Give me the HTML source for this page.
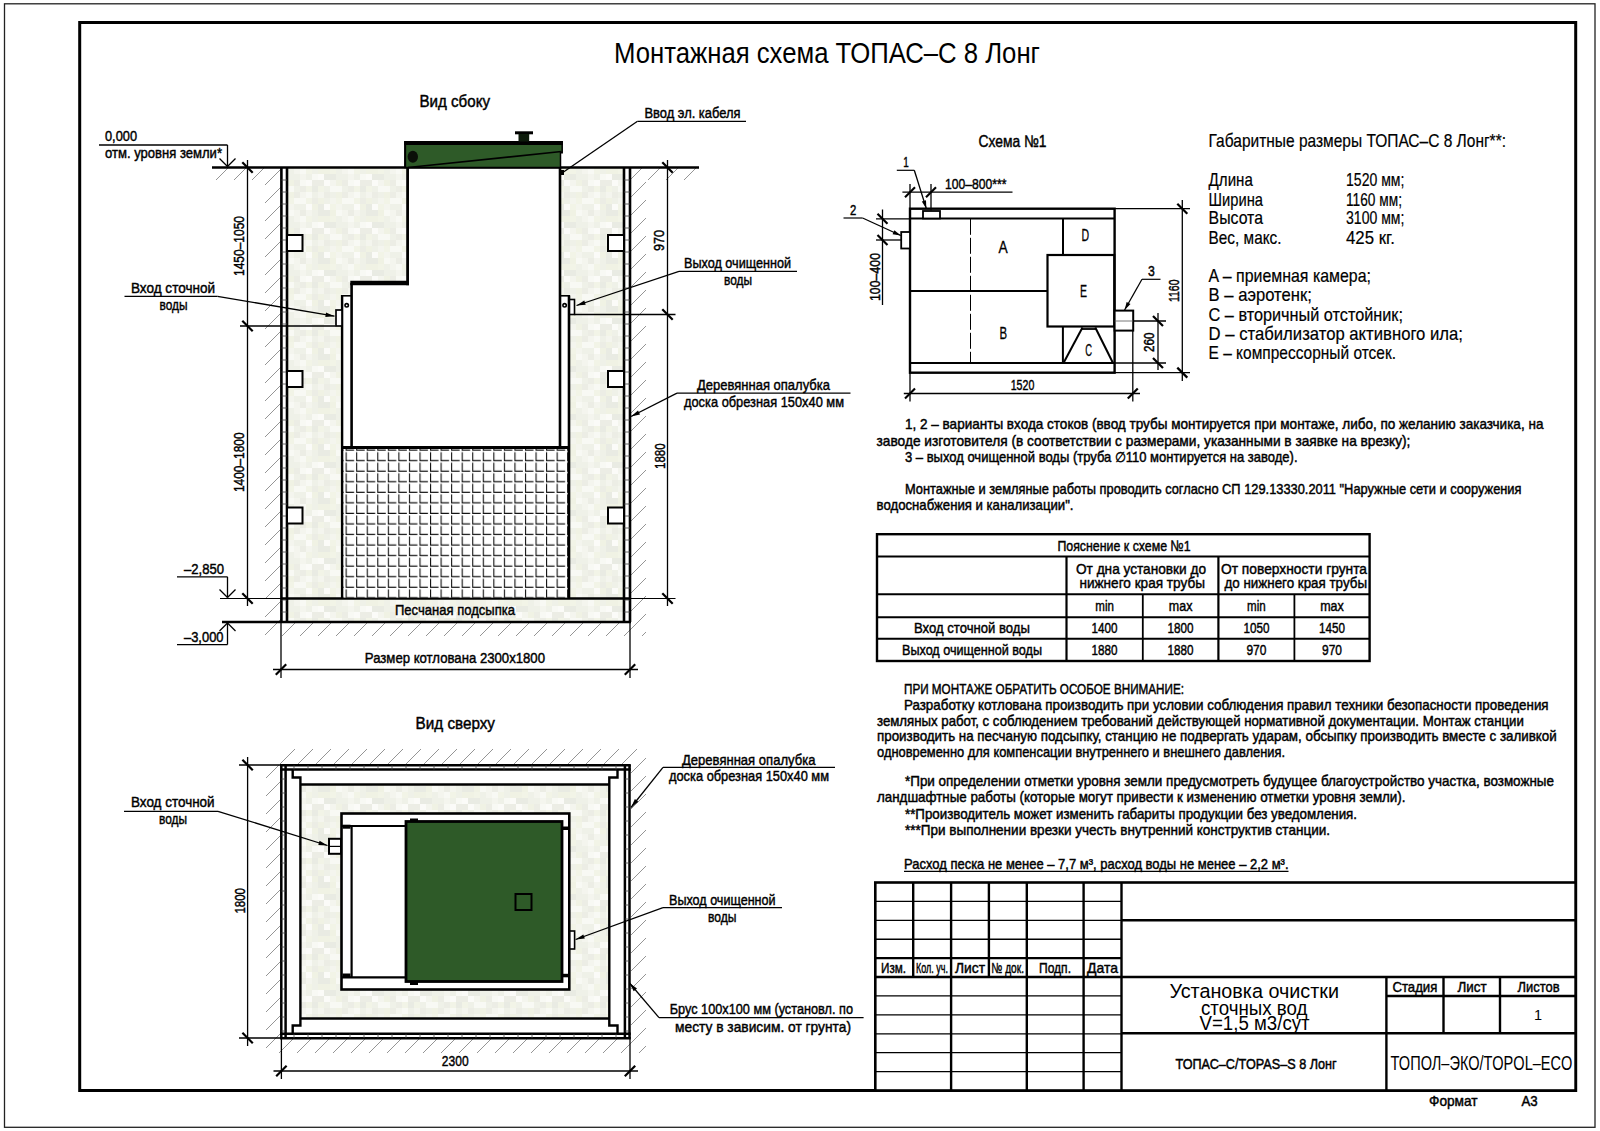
<!DOCTYPE html>
<html lang="ru"><head><meta charset="utf-8"><title>Монтажная схема ТОПАС–С 8 Лонг</title>
<style>
html,body{margin:0;padding:0;background:#fff;}
body{width:1600px;height:1131px;overflow:hidden;}
svg{display:block;font-family:'Liberation Sans', sans-serif;}
svg text{font-family:"Liberation Sans",sans-serif;}
</style></head><body>
<svg width="1600" height="1131" viewBox="0 0 1600 1131">
<rect width="1600" height="1131" fill="#fff"/>
<defs>
<pattern id="hatch" patternUnits="userSpaceOnUse" width="18" height="18">
<path d="M-1,19 L19,-1 M-1,1 L1,-1 M17,19 L19,17" stroke="#959595" stroke-width="1" fill="none"/>
</pattern>
<pattern id="sand" patternUnits="userSpaceOnUse" width="48" height="48">
<rect width="48" height="48" fill="#f3f4ed"/>
<rect x="0" y="0" width="6" height="6" fill="#f0f2e4"/><rect x="0" y="6" width="6" height="6" fill="#f2f4e7"/><rect x="0" y="12" width="6" height="6" fill="#f4f5ee"/><rect x="0" y="18" width="6" height="6" fill="#f8f9f4"/><rect x="0" y="24" width="6" height="6" fill="#eff1e8"/><rect x="0" y="30" width="6" height="6" fill="#eff1e8"/><rect x="0" y="36" width="6" height="6" fill="#f0f2e4"/><rect x="0" y="42" width="6" height="6" fill="#f8f9f4"/><rect x="6" y="0" width="6" height="6" fill="#ecede5"/><rect x="6" y="6" width="6" height="6" fill="#f8f9f4"/><rect x="6" y="12" width="6" height="6" fill="#eff1e8"/><rect x="6" y="18" width="6" height="6" fill="#f4f5ee"/><rect x="6" y="24" width="6" height="6" fill="#f4f5ee"/><rect x="6" y="30" width="6" height="6" fill="#eff1e8"/><rect x="6" y="36" width="6" height="6" fill="#ecede5"/><rect x="6" y="42" width="6" height="6" fill="#eff1e8"/><rect x="12" y="0" width="6" height="6" fill="#f4f5ee"/><rect x="12" y="6" width="6" height="6" fill="#f8f9f4"/><rect x="12" y="12" width="6" height="6" fill="#eff1e8"/><rect x="12" y="18" width="6" height="6" fill="#ecede5"/><rect x="12" y="24" width="6" height="6" fill="#f8f9f4"/><rect x="12" y="30" width="6" height="6" fill="#f4f5ee"/><rect x="12" y="36" width="6" height="6" fill="#f8f9f4"/><rect x="12" y="42" width="6" height="6" fill="#ecede5"/><rect x="18" y="0" width="6" height="6" fill="#f8f9f4"/><rect x="18" y="6" width="6" height="6" fill="#f2f4e7"/><rect x="18" y="12" width="6" height="6" fill="#fbfbf8"/><rect x="18" y="18" width="6" height="6" fill="#f4f5ee"/><rect x="18" y="24" width="6" height="6" fill="#f2f4e7"/><rect x="18" y="30" width="6" height="6" fill="#eff1e8"/><rect x="18" y="36" width="6" height="6" fill="#fbfbf8"/><rect x="18" y="42" width="6" height="6" fill="#f2f4e7"/><rect x="24" y="0" width="6" height="6" fill="#eff1e8"/><rect x="24" y="6" width="6" height="6" fill="#ecede5"/><rect x="24" y="12" width="6" height="6" fill="#f0f2e4"/><rect x="24" y="18" width="6" height="6" fill="#eff1e8"/><rect x="24" y="24" width="6" height="6" fill="#eff1e8"/><rect x="24" y="30" width="6" height="6" fill="#f8f9f4"/><rect x="24" y="36" width="6" height="6" fill="#ecede5"/><rect x="24" y="42" width="6" height="6" fill="#e9ebe3"/><rect x="30" y="0" width="6" height="6" fill="#f4f5ee"/><rect x="30" y="6" width="6" height="6" fill="#f0f2e4"/><rect x="30" y="12" width="6" height="6" fill="#e9ebe3"/><rect x="30" y="18" width="6" height="6" fill="#e9ebe3"/><rect x="30" y="24" width="6" height="6" fill="#f0f2e4"/><rect x="30" y="30" width="6" height="6" fill="#fbfbf8"/><rect x="30" y="36" width="6" height="6" fill="#ecede5"/><rect x="30" y="42" width="6" height="6" fill="#f2f4e7"/><rect x="36" y="0" width="6" height="6" fill="#ecede5"/><rect x="36" y="6" width="6" height="6" fill="#eff1e8"/><rect x="36" y="12" width="6" height="6" fill="#fbfbf8"/><rect x="36" y="18" width="6" height="6" fill="#e9ebe3"/><rect x="36" y="24" width="6" height="6" fill="#f0f2e4"/><rect x="36" y="30" width="6" height="6" fill="#e9ebe3"/><rect x="36" y="36" width="6" height="6" fill="#fbfbf8"/><rect x="36" y="42" width="6" height="6" fill="#eff1e8"/><rect x="42" y="0" width="6" height="6" fill="#eff1e8"/><rect x="42" y="6" width="6" height="6" fill="#f4f5ee"/><rect x="42" y="12" width="6" height="6" fill="#f2f4e7"/><rect x="42" y="18" width="6" height="6" fill="#f0f2e4"/><rect x="42" y="24" width="6" height="6" fill="#f2f4e7"/><rect x="42" y="30" width="6" height="6" fill="#e9ebe3"/><rect x="42" y="36" width="6" height="6" fill="#f4f5ee"/><rect x="42" y="42" width="6" height="6" fill="#f8f9f4"/>
</pattern>
<pattern id="grid" patternUnits="userSpaceOnUse" x="345.6" y="450.7" width="10.55" height="10.55">
<rect width="10.55" height="10.55" fill="#fff"/>
<path d="M0.5,1.5 V10.55 M0,10 H8.5" stroke="#111" stroke-width="1.2" fill="none"/>
</pattern>
</defs>
<rect x="4.5" y="3.8" width="1590.5" height="1123.5" fill="none" stroke="#222" stroke-width="1.3" />
<rect x="79.7" y="22.5" width="1496" height="1068" fill="none" stroke="#000" stroke-width="3" />
<text x="614" y="63.4" font-size="29" textLength="426.0" lengthAdjust="spacingAndGlyphs" fill="#000">Монтажная схема ТОПАС–С 8 Лонг</text>
<text x="419.5" y="107" font-size="16.6" textLength="70.5" lengthAdjust="spacingAndGlyphs" stroke="#000" stroke-width="0.45" fill="#000">Вид сбоку</text>
<rect x="212" y="168" width="69" height="12" fill="url(#hatch)" stroke="none" stroke-width="1" />
<rect x="265" y="168" width="16" height="468" fill="url(#hatch)" stroke="none" stroke-width="1" />
<rect x="630" y="168" width="69" height="12" fill="url(#hatch)" stroke="none" stroke-width="1" />
<rect x="630" y="168" width="16" height="468" fill="url(#hatch)" stroke="none" stroke-width="1" />
<rect x="265" y="622" width="381" height="14" fill="url(#hatch)" stroke="none" stroke-width="1" />
<path d="M287,168 H408 V284 H351.5 V295 H342 V597.5 H569 V295.5 H560 V168 H624 V622 H287 Z" fill="url(#sand)" stroke="none" stroke-width="1" />
<line x1="281.4" y1="168" x2="281.4" y2="622" stroke="#000" stroke-width="2.6" />
<line x1="287" y1="168" x2="287" y2="622" stroke="#000" stroke-width="2.6" />
<line x1="281.4" y1="180" x2="287" y2="180" stroke="#444" stroke-width="0.8" />
<line x1="281.4" y1="192" x2="287" y2="192" stroke="#444" stroke-width="0.8" />
<line x1="281.4" y1="204" x2="287" y2="204" stroke="#444" stroke-width="0.8" />
<line x1="281.4" y1="216" x2="287" y2="216" stroke="#444" stroke-width="0.8" />
<line x1="281.4" y1="228" x2="287" y2="228" stroke="#444" stroke-width="0.8" />
<line x1="281.4" y1="240" x2="287" y2="240" stroke="#444" stroke-width="0.8" />
<line x1="281.4" y1="252" x2="287" y2="252" stroke="#444" stroke-width="0.8" />
<line x1="281.4" y1="264" x2="287" y2="264" stroke="#444" stroke-width="0.8" />
<line x1="281.4" y1="276" x2="287" y2="276" stroke="#444" stroke-width="0.8" />
<line x1="281.4" y1="288" x2="287" y2="288" stroke="#444" stroke-width="0.8" />
<line x1="281.4" y1="300" x2="287" y2="300" stroke="#444" stroke-width="0.8" />
<line x1="281.4" y1="312" x2="287" y2="312" stroke="#444" stroke-width="0.8" />
<line x1="281.4" y1="324" x2="287" y2="324" stroke="#444" stroke-width="0.8" />
<line x1="281.4" y1="336" x2="287" y2="336" stroke="#444" stroke-width="0.8" />
<line x1="281.4" y1="348" x2="287" y2="348" stroke="#444" stroke-width="0.8" />
<line x1="281.4" y1="360" x2="287" y2="360" stroke="#444" stroke-width="0.8" />
<line x1="281.4" y1="372" x2="287" y2="372" stroke="#444" stroke-width="0.8" />
<line x1="281.4" y1="384" x2="287" y2="384" stroke="#444" stroke-width="0.8" />
<line x1="281.4" y1="396" x2="287" y2="396" stroke="#444" stroke-width="0.8" />
<line x1="281.4" y1="408" x2="287" y2="408" stroke="#444" stroke-width="0.8" />
<line x1="281.4" y1="420" x2="287" y2="420" stroke="#444" stroke-width="0.8" />
<line x1="281.4" y1="432" x2="287" y2="432" stroke="#444" stroke-width="0.8" />
<line x1="281.4" y1="444" x2="287" y2="444" stroke="#444" stroke-width="0.8" />
<line x1="281.4" y1="456" x2="287" y2="456" stroke="#444" stroke-width="0.8" />
<line x1="281.4" y1="468" x2="287" y2="468" stroke="#444" stroke-width="0.8" />
<line x1="281.4" y1="480" x2="287" y2="480" stroke="#444" stroke-width="0.8" />
<line x1="281.4" y1="492" x2="287" y2="492" stroke="#444" stroke-width="0.8" />
<line x1="281.4" y1="504" x2="287" y2="504" stroke="#444" stroke-width="0.8" />
<line x1="281.4" y1="516" x2="287" y2="516" stroke="#444" stroke-width="0.8" />
<line x1="281.4" y1="528" x2="287" y2="528" stroke="#444" stroke-width="0.8" />
<line x1="281.4" y1="540" x2="287" y2="540" stroke="#444" stroke-width="0.8" />
<line x1="281.4" y1="552" x2="287" y2="552" stroke="#444" stroke-width="0.8" />
<line x1="281.4" y1="564" x2="287" y2="564" stroke="#444" stroke-width="0.8" />
<line x1="281.4" y1="576" x2="287" y2="576" stroke="#444" stroke-width="0.8" />
<line x1="281.4" y1="588" x2="287" y2="588" stroke="#444" stroke-width="0.8" />
<line x1="281.4" y1="600" x2="287" y2="600" stroke="#444" stroke-width="0.8" />
<line x1="281.4" y1="612" x2="287" y2="612" stroke="#444" stroke-width="0.8" />
<line x1="624" y1="168" x2="624" y2="622" stroke="#000" stroke-width="2.6" />
<line x1="630" y1="168" x2="630" y2="622" stroke="#000" stroke-width="2.6" />
<line x1="624" y1="180" x2="630" y2="180" stroke="#444" stroke-width="0.8" />
<line x1="624" y1="192" x2="630" y2="192" stroke="#444" stroke-width="0.8" />
<line x1="624" y1="204" x2="630" y2="204" stroke="#444" stroke-width="0.8" />
<line x1="624" y1="216" x2="630" y2="216" stroke="#444" stroke-width="0.8" />
<line x1="624" y1="228" x2="630" y2="228" stroke="#444" stroke-width="0.8" />
<line x1="624" y1="240" x2="630" y2="240" stroke="#444" stroke-width="0.8" />
<line x1="624" y1="252" x2="630" y2="252" stroke="#444" stroke-width="0.8" />
<line x1="624" y1="264" x2="630" y2="264" stroke="#444" stroke-width="0.8" />
<line x1="624" y1="276" x2="630" y2="276" stroke="#444" stroke-width="0.8" />
<line x1="624" y1="288" x2="630" y2="288" stroke="#444" stroke-width="0.8" />
<line x1="624" y1="300" x2="630" y2="300" stroke="#444" stroke-width="0.8" />
<line x1="624" y1="312" x2="630" y2="312" stroke="#444" stroke-width="0.8" />
<line x1="624" y1="324" x2="630" y2="324" stroke="#444" stroke-width="0.8" />
<line x1="624" y1="336" x2="630" y2="336" stroke="#444" stroke-width="0.8" />
<line x1="624" y1="348" x2="630" y2="348" stroke="#444" stroke-width="0.8" />
<line x1="624" y1="360" x2="630" y2="360" stroke="#444" stroke-width="0.8" />
<line x1="624" y1="372" x2="630" y2="372" stroke="#444" stroke-width="0.8" />
<line x1="624" y1="384" x2="630" y2="384" stroke="#444" stroke-width="0.8" />
<line x1="624" y1="396" x2="630" y2="396" stroke="#444" stroke-width="0.8" />
<line x1="624" y1="408" x2="630" y2="408" stroke="#444" stroke-width="0.8" />
<line x1="624" y1="420" x2="630" y2="420" stroke="#444" stroke-width="0.8" />
<line x1="624" y1="432" x2="630" y2="432" stroke="#444" stroke-width="0.8" />
<line x1="624" y1="444" x2="630" y2="444" stroke="#444" stroke-width="0.8" />
<line x1="624" y1="456" x2="630" y2="456" stroke="#444" stroke-width="0.8" />
<line x1="624" y1="468" x2="630" y2="468" stroke="#444" stroke-width="0.8" />
<line x1="624" y1="480" x2="630" y2="480" stroke="#444" stroke-width="0.8" />
<line x1="624" y1="492" x2="630" y2="492" stroke="#444" stroke-width="0.8" />
<line x1="624" y1="504" x2="630" y2="504" stroke="#444" stroke-width="0.8" />
<line x1="624" y1="516" x2="630" y2="516" stroke="#444" stroke-width="0.8" />
<line x1="624" y1="528" x2="630" y2="528" stroke="#444" stroke-width="0.8" />
<line x1="624" y1="540" x2="630" y2="540" stroke="#444" stroke-width="0.8" />
<line x1="624" y1="552" x2="630" y2="552" stroke="#444" stroke-width="0.8" />
<line x1="624" y1="564" x2="630" y2="564" stroke="#444" stroke-width="0.8" />
<line x1="624" y1="576" x2="630" y2="576" stroke="#444" stroke-width="0.8" />
<line x1="624" y1="588" x2="630" y2="588" stroke="#444" stroke-width="0.8" />
<line x1="624" y1="600" x2="630" y2="600" stroke="#444" stroke-width="0.8" />
<line x1="624" y1="612" x2="630" y2="612" stroke="#444" stroke-width="0.8" />
<rect x="287" y="235" width="15.5" height="16" fill="#fff" stroke="#000" stroke-width="2" />
<rect x="608" y="235" width="16" height="16" fill="#fff" stroke="#000" stroke-width="2" />
<rect x="287" y="371" width="15.5" height="16" fill="#fff" stroke="#000" stroke-width="2" />
<rect x="608" y="371" width="16" height="16" fill="#fff" stroke="#000" stroke-width="2" />
<rect x="287" y="507.5" width="15.5" height="16" fill="#fff" stroke="#000" stroke-width="2" />
<rect x="608" y="507.5" width="16" height="16" fill="#fff" stroke="#000" stroke-width="2" />
<line x1="212" y1="167.5" x2="699" y2="167.5" stroke="#000" stroke-width="2.6" />
<line x1="222" y1="622" x2="631" y2="622" stroke="#000" stroke-width="2.6" />
<line x1="220" y1="598.5" x2="281" y2="598.5" stroke="#000" stroke-width="1.2" />
<line x1="630" y1="598.5" x2="675.5" y2="598.5" stroke="#000" stroke-width="1.2" />
<line x1="281" y1="598.5" x2="630" y2="598.5" stroke="#000" stroke-width="2.4" />
<rect x="342" y="447.5" width="227" height="150" fill="url(#grid)" stroke="none" stroke-width="1" />
<line x1="407.6" y1="167" x2="407.6" y2="285.2" stroke="#000" stroke-width="2.8" />
<line x1="350.3" y1="283" x2="409" y2="283" stroke="#000" stroke-width="4.5" />
<line x1="351.6" y1="283" x2="351.6" y2="447.5" stroke="#000" stroke-width="2.6" />
<line x1="342.1" y1="295" x2="342.1" y2="598" stroke="#000" stroke-width="2.4" />
<line x1="341" y1="295.8" x2="352" y2="295.8" stroke="#000" stroke-width="1.6" />
<line x1="560" y1="167" x2="560" y2="447.5" stroke="#000" stroke-width="2.6" />
<line x1="569" y1="295.5" x2="569" y2="598" stroke="#000" stroke-width="2.6" />
<line x1="559" y1="295.8" x2="570" y2="295.8" stroke="#000" stroke-width="1.6" />
<line x1="341" y1="447.5" x2="570" y2="447.5" stroke="#000" stroke-width="2.8" />
<circle cx="346.7" cy="305.3" r="1.7" fill="#fff" stroke="#000" stroke-width="1.6"/>
<circle cx="564.6" cy="305.3" r="1.7" fill="#fff" stroke="#000" stroke-width="1.6"/>
<rect x="336" y="310" width="6" height="16" fill="#fff" stroke="#000" stroke-width="1.7" />
<rect x="569.5" y="299.5" width="5" height="15" fill="#fff" stroke="#000" stroke-width="1.6" />
<path d="M405,141.8 H562.2 V152.7 H560.5 V167.5 H405 Z" fill="#2e5a28" stroke="#000" stroke-width="1.5" />
<rect x="404.3" y="141.1" width="158.6" height="3.9" fill="#000" stroke="none" stroke-width="1" />
<line x1="405.2" y1="141.2" x2="405.2" y2="168" stroke="#000" stroke-width="1.9" />
<line x1="408" y1="167.5" x2="561.5" y2="151.5" stroke="#000" stroke-width="1.6" />
<ellipse cx="412.8" cy="156.8" rx="5.2" ry="6" fill="#0a0f08"/>
<rect x="515" y="131.3" width="18" height="3" fill="#000" stroke="none" stroke-width="1" />
<rect x="518.5" y="134" width="10.7" height="7.5" fill="#0c1a0a" stroke="none" stroke-width="1" />
<rect x="561" y="170" width="3" height="5" fill="#000" stroke="none" stroke-width="1" />
<line x1="247.5" y1="160" x2="247.5" y2="606" stroke="#000" stroke-width="1.3" />
<line x1="242.3" y1="162.3" x2="252.7" y2="172.7" stroke="#000" stroke-width="2.2" />
<line x1="242.3" y1="320.8" x2="252.7" y2="331.2" stroke="#000" stroke-width="2.2" />
<line x1="242.3" y1="593.3" x2="252.7" y2="603.7" stroke="#000" stroke-width="2.2" />
<line x1="240" y1="326" x2="335.5" y2="326" stroke="#000" stroke-width="1.3" />
<text x="0" y="0" transform="translate(244.2,276) rotate(-90)" font-size="15.3" textLength="60.0" lengthAdjust="spacingAndGlyphs" stroke="#000" stroke-width="0.45" fill="#000">1450–1050</text>
<text x="0" y="0" transform="translate(244.2,492) rotate(-90)" font-size="15.3" textLength="59.5" lengthAdjust="spacingAndGlyphs" stroke="#000" stroke-width="0.45" fill="#000">1400–1800</text>
<line x1="667.5" y1="160" x2="667.5" y2="606" stroke="#000" stroke-width="1.3" />
<line x1="662.3" y1="162.3" x2="672.7" y2="172.7" stroke="#000" stroke-width="2.2" />
<line x1="662.3" y1="309.3" x2="672.7" y2="319.7" stroke="#000" stroke-width="2.2" />
<line x1="662.3" y1="593.3" x2="672.7" y2="603.7" stroke="#000" stroke-width="2.2" />
<line x1="574.5" y1="314.5" x2="675.5" y2="314.5" stroke="#000" stroke-width="1.3" />
<text x="0" y="0" transform="translate(664,251) rotate(-90)" font-size="15.3" textLength="21.0" lengthAdjust="spacingAndGlyphs" stroke="#000" stroke-width="0.45" fill="#000">970</text>
<text x="0" y="0" transform="translate(664.5,469) rotate(-90)" font-size="15.3" textLength="25.6" lengthAdjust="spacingAndGlyphs" stroke="#000" stroke-width="0.45" fill="#000">1880</text>
<line x1="99" y1="145" x2="227.5" y2="145" stroke="#000" stroke-width="1.3" />
<line x1="227.5" y1="145" x2="227.5" y2="166.5" stroke="#000" stroke-width="1.3" />
<line x1="219.5" y1="158.5" x2="227.5" y2="166.5" stroke="#000" stroke-width="1.3" />
<line x1="235.5" y1="158.5" x2="227.5" y2="166.5" stroke="#000" stroke-width="1.3" />
<text x="105" y="141" font-size="15.3" textLength="32.0" lengthAdjust="spacingAndGlyphs" stroke="#000" stroke-width="0.45" fill="#000">0,000</text>
<text x="105" y="158" font-size="15.3" textLength="117.0" lengthAdjust="spacingAndGlyphs" stroke="#000" stroke-width="0.45" fill="#000">отм. уровня земли*</text>
<line x1="177" y1="576.8" x2="227.5" y2="576.8" stroke="#000" stroke-width="1.3" />
<line x1="227.5" y1="576.8" x2="227.5" y2="597.5" stroke="#000" stroke-width="1.3" />
<line x1="219.5" y1="589.5" x2="227.5" y2="597.5" stroke="#000" stroke-width="1.3" />
<line x1="235.5" y1="589.5" x2="227.5" y2="597.5" stroke="#000" stroke-width="1.3" />
<text x="184" y="573.6" font-size="15.3" textLength="40.0" lengthAdjust="spacingAndGlyphs" stroke="#000" stroke-width="0.45" fill="#000">–2,850</text>
<line x1="177" y1="644.6" x2="227.5" y2="644.6" stroke="#000" stroke-width="1.3" />
<line x1="227.5" y1="644.6" x2="227.5" y2="623" stroke="#000" stroke-width="1.3" />
<line x1="219.5" y1="631" x2="227.5" y2="623" stroke="#000" stroke-width="1.3" />
<line x1="235.5" y1="631" x2="227.5" y2="623" stroke="#000" stroke-width="1.3" />
<text x="184" y="641.5" font-size="15.3" textLength="39.5" lengthAdjust="spacingAndGlyphs" stroke="#000" stroke-width="0.45" fill="#000">–3,000</text>
<text x="131" y="293" font-size="15.3" textLength="84.0" lengthAdjust="spacingAndGlyphs" stroke="#000" stroke-width="0.45" fill="#000">Вход сточной</text>
<text x="159.5" y="310" font-size="15.3" textLength="28.0" lengthAdjust="spacingAndGlyphs" stroke="#000" stroke-width="0.45" fill="#000">воды</text>
<line x1="124.5" y1="296.3" x2="217.5" y2="296.3" stroke="#000" stroke-width="1.3" />
<line x1="217.5" y1="296.3" x2="334.5" y2="316.2" stroke="#000" stroke-width="1.3" />
<polygon points="334.5,316.2 325.3,316.9 326.0,312.5" fill="#000"/>
<text x="644.5" y="118" font-size="15.3" textLength="96.0" lengthAdjust="spacingAndGlyphs" stroke="#000" stroke-width="0.45" fill="#000">Ввод эл. кабеля</text>
<line x1="637.5" y1="121.3" x2="746" y2="121.3" stroke="#000" stroke-width="1.3" />
<line x1="637.5" y1="121.3" x2="563.5" y2="172" stroke="#000" stroke-width="1.3" />
<text x="684" y="268" font-size="15.3" textLength="107.0" lengthAdjust="spacingAndGlyphs" stroke="#000" stroke-width="0.45" fill="#000">Выход очищенной</text>
<text x="724" y="284.5" font-size="15.3" textLength="28.0" lengthAdjust="spacingAndGlyphs" stroke="#000" stroke-width="0.45" fill="#000">воды</text>
<line x1="679" y1="271.3" x2="797" y2="271.3" stroke="#000" stroke-width="1.3" />
<line x1="679" y1="271.3" x2="576.5" y2="305.5" stroke="#000" stroke-width="1.3" />
<polygon points="576.5,305.5 584.3,300.6 585.7,304.7" fill="#000"/>
<text x="697" y="390" font-size="15.3" textLength="133.0" lengthAdjust="spacingAndGlyphs" stroke="#000" stroke-width="0.45" fill="#000">Деревянная опалубка</text>
<text x="684" y="407" font-size="15.3" textLength="160.0" lengthAdjust="spacingAndGlyphs" stroke="#000" stroke-width="0.45" fill="#000">доска обрезная 150х40 мм</text>
<line x1="677" y1="393.2" x2="850.5" y2="393.2" stroke="#000" stroke-width="1.3" />
<line x1="677" y1="393.2" x2="631" y2="416.5" stroke="#000" stroke-width="1.3" />
<polygon points="631.0,416.5 638.0,410.5 640.0,414.4" fill="#000"/>
<text x="395" y="615" font-size="15.3" textLength="120.0" lengthAdjust="spacingAndGlyphs" stroke="#000" stroke-width="0.45" fill="#000">Песчаная подсыпка</text>
<line x1="281" y1="622" x2="281" y2="678" stroke="#000" stroke-width="1.3" />
<line x1="630" y1="622" x2="630" y2="678" stroke="#000" stroke-width="1.3" />
<line x1="273" y1="669.5" x2="638" y2="669.5" stroke="#000" stroke-width="1.3" />
<line x1="275.8" y1="674.7" x2="286.2" y2="664.3" stroke="#000" stroke-width="2.2" />
<line x1="624.8" y1="674.7" x2="635.2" y2="664.3" stroke="#000" stroke-width="2.2" />
<text x="364.8" y="663" font-size="15.3" textLength="180.2" lengthAdjust="spacingAndGlyphs" stroke="#000" stroke-width="0.45" fill="#000">Размер котлована 2300х1800</text>
<text x="415.6" y="728.6" font-size="16.6" textLength="79.4" lengthAdjust="spacingAndGlyphs" stroke="#000" stroke-width="0.45" fill="#000">Вид сверху</text>
<rect x="280" y="749" width="366" height="16" fill="url(#hatch)" stroke="none" stroke-width="1" />
<rect x="266" y="1038" width="380" height="15" fill="url(#hatch)" stroke="none" stroke-width="1" />
<rect x="266" y="765" width="15" height="288" fill="url(#hatch)" stroke="none" stroke-width="1" />
<rect x="631" y="757" width="15" height="296" fill="url(#hatch)" stroke="none" stroke-width="1" />
<rect x="285.5" y="769" width="340.5" height="264.5" fill="#fff" stroke="none" stroke-width="1" />
<rect x="301" y="785" width="308" height="233.5" fill="url(#sand)" stroke="none" stroke-width="1" />
<line x1="280" y1="765.3" x2="630.8" y2="765.3" stroke="#000" stroke-width="2.5" />
<line x1="280" y1="769.6" x2="630.8" y2="769.6" stroke="#000" stroke-width="2.5" />
<line x1="294" y1="765.3" x2="294" y2="769.6" stroke="#444" stroke-width="0.8" />
<line x1="308" y1="765.3" x2="308" y2="769.6" stroke="#444" stroke-width="0.8" />
<line x1="322" y1="765.3" x2="322" y2="769.6" stroke="#444" stroke-width="0.8" />
<line x1="336" y1="765.3" x2="336" y2="769.6" stroke="#444" stroke-width="0.8" />
<line x1="350" y1="765.3" x2="350" y2="769.6" stroke="#444" stroke-width="0.8" />
<line x1="364" y1="765.3" x2="364" y2="769.6" stroke="#444" stroke-width="0.8" />
<line x1="378" y1="765.3" x2="378" y2="769.6" stroke="#444" stroke-width="0.8" />
<line x1="392" y1="765.3" x2="392" y2="769.6" stroke="#444" stroke-width="0.8" />
<line x1="406" y1="765.3" x2="406" y2="769.6" stroke="#444" stroke-width="0.8" />
<line x1="420" y1="765.3" x2="420" y2="769.6" stroke="#444" stroke-width="0.8" />
<line x1="434" y1="765.3" x2="434" y2="769.6" stroke="#444" stroke-width="0.8" />
<line x1="448" y1="765.3" x2="448" y2="769.6" stroke="#444" stroke-width="0.8" />
<line x1="462" y1="765.3" x2="462" y2="769.6" stroke="#444" stroke-width="0.8" />
<line x1="476" y1="765.3" x2="476" y2="769.6" stroke="#444" stroke-width="0.8" />
<line x1="490" y1="765.3" x2="490" y2="769.6" stroke="#444" stroke-width="0.8" />
<line x1="504" y1="765.3" x2="504" y2="769.6" stroke="#444" stroke-width="0.8" />
<line x1="518" y1="765.3" x2="518" y2="769.6" stroke="#444" stroke-width="0.8" />
<line x1="532" y1="765.3" x2="532" y2="769.6" stroke="#444" stroke-width="0.8" />
<line x1="546" y1="765.3" x2="546" y2="769.6" stroke="#444" stroke-width="0.8" />
<line x1="560" y1="765.3" x2="560" y2="769.6" stroke="#444" stroke-width="0.8" />
<line x1="574" y1="765.3" x2="574" y2="769.6" stroke="#444" stroke-width="0.8" />
<line x1="588" y1="765.3" x2="588" y2="769.6" stroke="#444" stroke-width="0.8" />
<line x1="602" y1="765.3" x2="602" y2="769.6" stroke="#444" stroke-width="0.8" />
<line x1="616" y1="765.3" x2="616" y2="769.6" stroke="#444" stroke-width="0.8" />
<line x1="630" y1="765.3" x2="630" y2="769.6" stroke="#444" stroke-width="0.8" />
<line x1="280" y1="1033.8" x2="630.8" y2="1033.8" stroke="#000" stroke-width="2.5" />
<line x1="280" y1="1038.2" x2="630.8" y2="1038.2" stroke="#000" stroke-width="2.5" />
<line x1="294" y1="1033.8" x2="294" y2="1038.2" stroke="#444" stroke-width="0.8" />
<line x1="308" y1="1033.8" x2="308" y2="1038.2" stroke="#444" stroke-width="0.8" />
<line x1="322" y1="1033.8" x2="322" y2="1038.2" stroke="#444" stroke-width="0.8" />
<line x1="336" y1="1033.8" x2="336" y2="1038.2" stroke="#444" stroke-width="0.8" />
<line x1="350" y1="1033.8" x2="350" y2="1038.2" stroke="#444" stroke-width="0.8" />
<line x1="364" y1="1033.8" x2="364" y2="1038.2" stroke="#444" stroke-width="0.8" />
<line x1="378" y1="1033.8" x2="378" y2="1038.2" stroke="#444" stroke-width="0.8" />
<line x1="392" y1="1033.8" x2="392" y2="1038.2" stroke="#444" stroke-width="0.8" />
<line x1="406" y1="1033.8" x2="406" y2="1038.2" stroke="#444" stroke-width="0.8" />
<line x1="420" y1="1033.8" x2="420" y2="1038.2" stroke="#444" stroke-width="0.8" />
<line x1="434" y1="1033.8" x2="434" y2="1038.2" stroke="#444" stroke-width="0.8" />
<line x1="448" y1="1033.8" x2="448" y2="1038.2" stroke="#444" stroke-width="0.8" />
<line x1="462" y1="1033.8" x2="462" y2="1038.2" stroke="#444" stroke-width="0.8" />
<line x1="476" y1="1033.8" x2="476" y2="1038.2" stroke="#444" stroke-width="0.8" />
<line x1="490" y1="1033.8" x2="490" y2="1038.2" stroke="#444" stroke-width="0.8" />
<line x1="504" y1="1033.8" x2="504" y2="1038.2" stroke="#444" stroke-width="0.8" />
<line x1="518" y1="1033.8" x2="518" y2="1038.2" stroke="#444" stroke-width="0.8" />
<line x1="532" y1="1033.8" x2="532" y2="1038.2" stroke="#444" stroke-width="0.8" />
<line x1="546" y1="1033.8" x2="546" y2="1038.2" stroke="#444" stroke-width="0.8" />
<line x1="560" y1="1033.8" x2="560" y2="1038.2" stroke="#444" stroke-width="0.8" />
<line x1="574" y1="1033.8" x2="574" y2="1038.2" stroke="#444" stroke-width="0.8" />
<line x1="588" y1="1033.8" x2="588" y2="1038.2" stroke="#444" stroke-width="0.8" />
<line x1="602" y1="1033.8" x2="602" y2="1038.2" stroke="#444" stroke-width="0.8" />
<line x1="616" y1="1033.8" x2="616" y2="1038.2" stroke="#444" stroke-width="0.8" />
<line x1="630" y1="1033.8" x2="630" y2="1038.2" stroke="#444" stroke-width="0.8" />
<line x1="281.3" y1="765" x2="281.3" y2="1038" stroke="#000" stroke-width="2.5" />
<line x1="285.6" y1="765" x2="285.6" y2="1038" stroke="#000" stroke-width="2.5" />
<line x1="281.3" y1="779" x2="285.6" y2="779" stroke="#444" stroke-width="0.8" />
<line x1="281.3" y1="793" x2="285.6" y2="793" stroke="#444" stroke-width="0.8" />
<line x1="281.3" y1="807" x2="285.6" y2="807" stroke="#444" stroke-width="0.8" />
<line x1="281.3" y1="821" x2="285.6" y2="821" stroke="#444" stroke-width="0.8" />
<line x1="281.3" y1="835" x2="285.6" y2="835" stroke="#444" stroke-width="0.8" />
<line x1="281.3" y1="849" x2="285.6" y2="849" stroke="#444" stroke-width="0.8" />
<line x1="281.3" y1="863" x2="285.6" y2="863" stroke="#444" stroke-width="0.8" />
<line x1="281.3" y1="877" x2="285.6" y2="877" stroke="#444" stroke-width="0.8" />
<line x1="281.3" y1="891" x2="285.6" y2="891" stroke="#444" stroke-width="0.8" />
<line x1="281.3" y1="905" x2="285.6" y2="905" stroke="#444" stroke-width="0.8" />
<line x1="281.3" y1="919" x2="285.6" y2="919" stroke="#444" stroke-width="0.8" />
<line x1="281.3" y1="933" x2="285.6" y2="933" stroke="#444" stroke-width="0.8" />
<line x1="281.3" y1="947" x2="285.6" y2="947" stroke="#444" stroke-width="0.8" />
<line x1="281.3" y1="961" x2="285.6" y2="961" stroke="#444" stroke-width="0.8" />
<line x1="281.3" y1="975" x2="285.6" y2="975" stroke="#444" stroke-width="0.8" />
<line x1="281.3" y1="989" x2="285.6" y2="989" stroke="#444" stroke-width="0.8" />
<line x1="281.3" y1="1003" x2="285.6" y2="1003" stroke="#444" stroke-width="0.8" />
<line x1="281.3" y1="1017" x2="285.6" y2="1017" stroke="#444" stroke-width="0.8" />
<line x1="281.3" y1="1031" x2="285.6" y2="1031" stroke="#444" stroke-width="0.8" />
<line x1="624.9" y1="765" x2="624.9" y2="1038" stroke="#000" stroke-width="2.5" />
<line x1="629.5" y1="765" x2="629.5" y2="1038" stroke="#000" stroke-width="2.5" />
<line x1="624.9" y1="779" x2="629.5" y2="779" stroke="#444" stroke-width="0.8" />
<line x1="624.9" y1="793" x2="629.5" y2="793" stroke="#444" stroke-width="0.8" />
<line x1="624.9" y1="807" x2="629.5" y2="807" stroke="#444" stroke-width="0.8" />
<line x1="624.9" y1="821" x2="629.5" y2="821" stroke="#444" stroke-width="0.8" />
<line x1="624.9" y1="835" x2="629.5" y2="835" stroke="#444" stroke-width="0.8" />
<line x1="624.9" y1="849" x2="629.5" y2="849" stroke="#444" stroke-width="0.8" />
<line x1="624.9" y1="863" x2="629.5" y2="863" stroke="#444" stroke-width="0.8" />
<line x1="624.9" y1="877" x2="629.5" y2="877" stroke="#444" stroke-width="0.8" />
<line x1="624.9" y1="891" x2="629.5" y2="891" stroke="#444" stroke-width="0.8" />
<line x1="624.9" y1="905" x2="629.5" y2="905" stroke="#444" stroke-width="0.8" />
<line x1="624.9" y1="919" x2="629.5" y2="919" stroke="#444" stroke-width="0.8" />
<line x1="624.9" y1="933" x2="629.5" y2="933" stroke="#444" stroke-width="0.8" />
<line x1="624.9" y1="947" x2="629.5" y2="947" stroke="#444" stroke-width="0.8" />
<line x1="624.9" y1="961" x2="629.5" y2="961" stroke="#444" stroke-width="0.8" />
<line x1="624.9" y1="975" x2="629.5" y2="975" stroke="#444" stroke-width="0.8" />
<line x1="624.9" y1="989" x2="629.5" y2="989" stroke="#444" stroke-width="0.8" />
<line x1="624.9" y1="1003" x2="629.5" y2="1003" stroke="#444" stroke-width="0.8" />
<line x1="624.9" y1="1017" x2="629.5" y2="1017" stroke="#444" stroke-width="0.8" />
<line x1="624.9" y1="1031" x2="629.5" y2="1031" stroke="#444" stroke-width="0.8" />
<path d="M292.7,770 V777.5 H300.4 V1025.5 H292.7 V1033" fill="none" stroke="#000" stroke-width="2.4" />
<path d="M617.5,770 V777.5 H609.3 V1025.5 H617.5 V1033" fill="none" stroke="#000" stroke-width="2.4" />
<line x1="300.4" y1="784.6" x2="609.3" y2="784.6" stroke="#000" stroke-width="2.5" />
<line x1="300.4" y1="1018.5" x2="609.3" y2="1018.5" stroke="#000" stroke-width="2.5" />
<rect x="341.5" y="813.5" width="227.8" height="176" fill="#fff" stroke="#000" stroke-width="2.6" />
<line x1="341.5" y1="826" x2="406" y2="826" stroke="#000" stroke-width="2.2" />
<line x1="341.5" y1="977.3" x2="406" y2="977.3" stroke="#000" stroke-width="2.2" />
<line x1="351.6" y1="826" x2="351.6" y2="977.3" stroke="#000" stroke-width="2.2" />
<rect x="342.5" y="824.7" width="8" height="4" fill="#000" stroke="none" stroke-width="1" />
<rect x="342.5" y="973.5" width="8" height="4" fill="#000" stroke="none" stroke-width="1" />
<rect x="562" y="826.5" width="6.5" height="3.5" fill="#000" stroke="none" stroke-width="1" />
<rect x="562" y="973.8" width="6.5" height="3.5" fill="#000" stroke="none" stroke-width="1" />
<rect x="406" y="821.5" width="156" height="160" fill="#2e5a28" stroke="#000" stroke-width="2.8" />
<rect x="410" y="818.5" width="8" height="3" fill="#000" stroke="none" stroke-width="1" />
<rect x="410" y="982" width="8" height="3" fill="#000" stroke="none" stroke-width="1" />
<rect x="515.5" y="894" width="16" height="16" fill="none" stroke="#000" stroke-width="2" />
<rect x="329" y="838.8" width="12" height="15" fill="#fff" stroke="#000" stroke-width="2" />
<line x1="329" y1="846.4" x2="341" y2="846.4" stroke="#000" stroke-width="1.2" />
<rect x="569.8" y="931" width="4.8" height="18" fill="#fff" stroke="#000" stroke-width="1.6" />
<line x1="247.6" y1="757" x2="247.6" y2="1046" stroke="#000" stroke-width="1.3" />
<line x1="239" y1="765" x2="281" y2="765" stroke="#000" stroke-width="1.3" />
<line x1="239" y1="1038" x2="281" y2="1038" stroke="#000" stroke-width="1.3" />
<line x1="242.4" y1="759.8" x2="252.79999999999998" y2="770.2" stroke="#000" stroke-width="2.2" />
<line x1="242.4" y1="1032.8" x2="252.79999999999998" y2="1043.2" stroke="#000" stroke-width="2.2" />
<text x="0" y="0" transform="translate(244.5,913.5) rotate(-90)" font-size="15.3" textLength="25.5" lengthAdjust="spacingAndGlyphs" stroke="#000" stroke-width="0.45" fill="#000">1800</text>
<line x1="281.4" y1="1038" x2="281.4" y2="1079" stroke="#000" stroke-width="1.3" />
<line x1="630" y1="1038" x2="630" y2="1079" stroke="#000" stroke-width="1.3" />
<line x1="273.5" y1="1071" x2="638" y2="1071" stroke="#000" stroke-width="1.3" />
<line x1="276.2" y1="1076.2" x2="286.59999999999997" y2="1065.8" stroke="#000" stroke-width="2.2" />
<line x1="624.8" y1="1076.2" x2="635.2" y2="1065.8" stroke="#000" stroke-width="2.2" />
<text x="441.8" y="1066.4" font-size="15.3" textLength="26.8" lengthAdjust="spacingAndGlyphs" stroke="#000" stroke-width="0.45" fill="#000">2300</text>
<text x="131" y="807.4" font-size="15.3" textLength="83.6" lengthAdjust="spacingAndGlyphs" stroke="#000" stroke-width="0.45" fill="#000">Вход сточной</text>
<text x="159" y="824" font-size="15.3" textLength="28.0" lengthAdjust="spacingAndGlyphs" stroke="#000" stroke-width="0.45" fill="#000">воды</text>
<line x1="124" y1="811.3" x2="218" y2="811.3" stroke="#000" stroke-width="1.3" />
<line x1="218" y1="811.3" x2="327.5" y2="845.5" stroke="#000" stroke-width="1.3" />
<polygon points="327.5,845.5 318.3,844.9 319.6,840.7" fill="#000"/>
<text x="682" y="764.5" font-size="15.3" textLength="133.4" lengthAdjust="spacingAndGlyphs" stroke="#000" stroke-width="0.45" fill="#000">Деревянная опалубка</text>
<text x="669" y="780.6" font-size="15.3" textLength="160.0" lengthAdjust="spacingAndGlyphs" stroke="#000" stroke-width="0.45" fill="#000">доска обрезная 150х40 мм</text>
<line x1="663" y1="767.3" x2="835" y2="767.3" stroke="#000" stroke-width="1.3" />
<line x1="663" y1="767.3" x2="631" y2="807.5" stroke="#000" stroke-width="1.3" />
<polygon points="631.0,807.5 634.9,799.1 638.3,801.8" fill="#000"/>
<text x="669" y="904.6" font-size="15.3" textLength="106.6" lengthAdjust="spacingAndGlyphs" stroke="#000" stroke-width="0.45" fill="#000">Выход очищенной</text>
<text x="708" y="921.5" font-size="15.3" textLength="28.4" lengthAdjust="spacingAndGlyphs" stroke="#000" stroke-width="0.45" fill="#000">воды</text>
<line x1="663" y1="907.7" x2="782" y2="907.7" stroke="#000" stroke-width="1.3" />
<line x1="663" y1="907.7" x2="575.6" y2="939.5" stroke="#000" stroke-width="1.3" />
<polygon points="575.6,939.5 583.3,934.4 584.8,938.5" fill="#000"/>
<text x="669.7" y="1014" font-size="15.3" textLength="183.3" lengthAdjust="spacingAndGlyphs" stroke="#000" stroke-width="0.45" fill="#000">Брус 100х100 мм (установл. по</text>
<text x="675" y="1031.6" font-size="15.3" textLength="176.0" lengthAdjust="spacingAndGlyphs" stroke="#000" stroke-width="0.45" fill="#000">месту в зависим. от грунта)</text>
<line x1="659" y1="1017.6" x2="863.6" y2="1017.6" stroke="#000" stroke-width="1.3" />
<line x1="659" y1="1017.6" x2="629.5" y2="983" stroke="#000" stroke-width="1.3" />
<polygon points="629.5,983.0 637.0,988.4 633.7,991.3" fill="#000"/>
<text x="978.6" y="146.6" font-size="16.6" textLength="67.9" lengthAdjust="spacingAndGlyphs" stroke="#000" stroke-width="0.45" fill="#000">Схема №1</text>
<rect x="910" y="208.7" width="204.6" height="164" fill="#fff" stroke="#000" stroke-width="2.4" />
<line x1="910" y1="218.6" x2="1114.6" y2="218.6" stroke="#000" stroke-width="2" />
<line x1="910" y1="363" x2="1114.6" y2="363" stroke="#000" stroke-width="2" />
<line x1="910" y1="291" x2="1047.8" y2="291" stroke="#000" stroke-width="2" />
<line x1="970.5" y1="218.8" x2="970.5" y2="362.5" stroke="#000" stroke-width="1" stroke-dasharray="16 3"/>
<line x1="1063" y1="218.8" x2="1063" y2="254.6" stroke="#000" stroke-width="2" />
<line x1="1062.9" y1="326.5" x2="1062.9" y2="363" stroke="#000" stroke-width="2" />
<rect x="1047.5" y="255" width="66.7" height="71.5" fill="#fff" stroke="#000" stroke-width="2.2" />
<line x1="1063.5" y1="363" x2="1082.5" y2="327.5" stroke="#000" stroke-width="2" />
<line x1="1095.3" y1="327.5" x2="1113" y2="363" stroke="#000" stroke-width="2" />
<line x1="1082" y1="329" x2="1096" y2="329" stroke="#000" stroke-width="1.8" />
<rect x="923" y="211" width="17" height="7.5" fill="#fff" stroke="#000" stroke-width="1.8" />
<rect x="901.2" y="232" width="8.8" height="16.5" fill="#fff" stroke="#000" stroke-width="1.8" />
<rect x="1114.6" y="310.6" width="18.6" height="20" fill="#fff" stroke="#000" stroke-width="2" />
<line x1="1114.6" y1="321" x2="1133" y2="321" stroke="#555" stroke-width="0.8" />
<text x="998.6" y="252.8" font-size="16" textLength="9.2" lengthAdjust="spacingAndGlyphs" stroke="#000" stroke-width="0.3" fill="#000">A</text>
<text x="999.5" y="339.4" font-size="16" textLength="7.6" lengthAdjust="spacingAndGlyphs" stroke="#000" stroke-width="0.3" fill="#000">B</text>
<text x="1081.5" y="241" font-size="16" textLength="7.6" lengthAdjust="spacingAndGlyphs" stroke="#000" stroke-width="0.3" fill="#000">D</text>
<text x="1080" y="297.3" font-size="16" textLength="7.0" lengthAdjust="spacingAndGlyphs" stroke="#000" stroke-width="0.3" fill="#000">E</text>
<text x="1085.3" y="356" font-size="16" textLength="6.8" lengthAdjust="spacingAndGlyphs" stroke="#000" stroke-width="0.3" fill="#000">C</text>
<text x="903.3" y="167.4" font-size="15.3" textLength="5.5" lengthAdjust="spacingAndGlyphs" stroke="#000" stroke-width="0.45" fill="#000">1</text>
<line x1="896.8" y1="170.3" x2="914.3" y2="170.3" stroke="#000" stroke-width="1.2" />
<line x1="914.3" y1="170.3" x2="926.3" y2="208.5" stroke="#000" stroke-width="1.3" />
<polygon points="926.3,208.5 921.8,201.5 926.0,200.2" fill="#000"/>
<line x1="902.4" y1="192.2" x2="1012.5" y2="192.2" stroke="#000" stroke-width="1.3" />
<line x1="910" y1="184" x2="910" y2="208.7" stroke="#000" stroke-width="1.3" />
<line x1="931" y1="184" x2="931" y2="210.5" stroke="#000" stroke-width="1.3" />
<line x1="905" y1="197.2" x2="915" y2="187.2" stroke="#000" stroke-width="2.2" />
<line x1="926" y1="197.2" x2="936" y2="187.2" stroke="#000" stroke-width="2.2" />
<text x="945" y="189" font-size="15.3" textLength="61.4" lengthAdjust="spacingAndGlyphs" stroke="#000" stroke-width="0.45" fill="#000">100–800***</text>
<text x="850" y="214.8" font-size="15.3" textLength="6.3" lengthAdjust="spacingAndGlyphs" stroke="#000" stroke-width="0.45" fill="#000">2</text>
<line x1="843.5" y1="218" x2="862.6" y2="218" stroke="#000" stroke-width="1.2" />
<line x1="862.6" y1="218" x2="900.8" y2="235.5" stroke="#000" stroke-width="1.3" />
<polygon points="900.8,235.5 892.6,234.2 894.4,230.2" fill="#000"/>
<line x1="882.5" y1="209.5" x2="882.5" y2="305" stroke="#000" stroke-width="1.3" />
<line x1="876" y1="218.8" x2="910" y2="218.8" stroke="#000" stroke-width="1.3" />
<line x1="876" y1="240" x2="901" y2="240" stroke="#000" stroke-width="1.3" />
<line x1="877.5" y1="213.8" x2="887.5" y2="223.8" stroke="#000" stroke-width="2.2" />
<line x1="877.5" y1="235" x2="887.5" y2="245" stroke="#000" stroke-width="2.2" />
<text x="0" y="0" transform="translate(880,301) rotate(-90)" font-size="15.3" textLength="48.0" lengthAdjust="spacingAndGlyphs" stroke="#000" stroke-width="0.45" fill="#000">100–400</text>
<text x="1148" y="276" font-size="15.3" textLength="6.8" lengthAdjust="spacingAndGlyphs" stroke="#000" stroke-width="0.45" fill="#000">3</text>
<line x1="1142" y1="279.3" x2="1160.5" y2="279.3" stroke="#000" stroke-width="1.2" />
<line x1="1142" y1="279.3" x2="1124.6" y2="310" stroke="#000" stroke-width="1.3" />
<polygon points="1124.6,310.0 1126.6,302.0 1130.5,304.1" fill="#000"/>
<line x1="1182.3" y1="200" x2="1182.3" y2="381" stroke="#000" stroke-width="1.3" />
<line x1="1114.6" y1="208.7" x2="1190" y2="208.7" stroke="#000" stroke-width="1.3" />
<line x1="1114.6" y1="372.6" x2="1190" y2="372.6" stroke="#000" stroke-width="1.3" />
<line x1="1177.3" y1="203.7" x2="1187.3" y2="213.7" stroke="#000" stroke-width="2.2" />
<line x1="1177.3" y1="367.6" x2="1187.3" y2="377.6" stroke="#000" stroke-width="2.2" />
<text x="0" y="0" transform="translate(1179.3,302) rotate(-90)" font-size="15.3" textLength="22.5" lengthAdjust="spacingAndGlyphs" stroke="#000" stroke-width="0.45" fill="#000">1160</text>
<line x1="1158" y1="313" x2="1158" y2="370" stroke="#000" stroke-width="1.3" />
<line x1="1133" y1="321" x2="1166" y2="321" stroke="#000" stroke-width="1.3" />
<line x1="1114.6" y1="363" x2="1166" y2="363" stroke="#000" stroke-width="1.3" />
<line x1="1153" y1="316" x2="1163" y2="326" stroke="#000" stroke-width="2.2" />
<line x1="1153" y1="358" x2="1163" y2="368" stroke="#000" stroke-width="2.2" />
<text x="0" y="0" transform="translate(1154.3,352) rotate(-90)" font-size="15.3" textLength="19.5" lengthAdjust="spacingAndGlyphs" stroke="#000" stroke-width="0.45" fill="#000">260</text>
<line x1="903.8" y1="393.5" x2="1140" y2="393.5" stroke="#000" stroke-width="1.3" />
<line x1="910" y1="372.6" x2="910" y2="401.5" stroke="#000" stroke-width="1.3" />
<line x1="1132.8" y1="330" x2="1132.8" y2="401.5" stroke="#000" stroke-width="1.3" />
<line x1="905" y1="398.5" x2="915" y2="388.5" stroke="#000" stroke-width="2.2" />
<line x1="1127.8" y1="398.5" x2="1137.8" y2="388.5" stroke="#000" stroke-width="2.2" />
<text x="1010.7" y="389.6" font-size="15.3" textLength="23.6" lengthAdjust="spacingAndGlyphs" stroke="#000" stroke-width="0.45" fill="#000">1520</text>
<text x="1208.6" y="147" font-size="18.2" textLength="297.4" lengthAdjust="spacingAndGlyphs" stroke="#000" stroke-width="0.2" fill="#000">Габаритные размеры ТОПАС–С 8 Лонг**:</text>
<text x="1208.6" y="186" font-size="18.2" textLength="44.2" lengthAdjust="spacingAndGlyphs" stroke="#000" stroke-width="0.2" fill="#000">Длина</text>
<text x="1346" y="186" font-size="18.2" textLength="58.4" lengthAdjust="spacingAndGlyphs" stroke="#000" stroke-width="0.2" fill="#000">1520 мм;</text>
<text x="1208.6" y="205.5" font-size="18.2" textLength="54.4" lengthAdjust="spacingAndGlyphs" stroke="#000" stroke-width="0.2" fill="#000">Ширина</text>
<text x="1346" y="205.5" font-size="18.2" textLength="56.0" lengthAdjust="spacingAndGlyphs" stroke="#000" stroke-width="0.2" fill="#000">1160 мм;</text>
<text x="1208.6" y="224.3" font-size="18.2" textLength="54.4" lengthAdjust="spacingAndGlyphs" stroke="#000" stroke-width="0.2" fill="#000">Высота</text>
<text x="1346" y="224.3" font-size="18.2" textLength="58.4" lengthAdjust="spacingAndGlyphs" stroke="#000" stroke-width="0.2" fill="#000">3100 мм;</text>
<text x="1208.6" y="244" font-size="18.2" textLength="72.9" lengthAdjust="spacingAndGlyphs" stroke="#000" stroke-width="0.2" fill="#000">Вес, макс.</text>
<text x="1346" y="244" font-size="18.2" textLength="48.8" lengthAdjust="spacingAndGlyphs" stroke="#000" stroke-width="0.2" fill="#000">425 кг.</text>
<text x="1208.6" y="282" font-size="18.2" textLength="162.4" lengthAdjust="spacingAndGlyphs" stroke="#000" stroke-width="0.2" fill="#000">A – приемная камера;</text>
<text x="1208.6" y="301" font-size="18.2" textLength="103.2" lengthAdjust="spacingAndGlyphs" stroke="#000" stroke-width="0.2" fill="#000">B – аэротенк;</text>
<text x="1208.6" y="320.5" font-size="18.2" textLength="194.4" lengthAdjust="spacingAndGlyphs" stroke="#000" stroke-width="0.2" fill="#000">C – вторичный отстойник;</text>
<text x="1208.6" y="340.4" font-size="18.2" textLength="254.4" lengthAdjust="spacingAndGlyphs" stroke="#000" stroke-width="0.2" fill="#000">D – стабилизатор активного ила;</text>
<text x="1208.6" y="358.7" font-size="18.2" textLength="187.4" lengthAdjust="spacingAndGlyphs" stroke="#000" stroke-width="0.2" fill="#000">E – компрессорный отсек.</text>
<text x="905" y="428.5" font-size="14.4" textLength="638.4" lengthAdjust="spacingAndGlyphs" stroke="#000" stroke-width="0.45" fill="#000">1, 2 – варианты входа  стоков (ввод трубы монтируется при монтаже, либо, по желанию заказчика, на</text>
<text x="876.6" y="446" font-size="14.4" textLength="533.8" lengthAdjust="spacingAndGlyphs" stroke="#000" stroke-width="0.45" fill="#000">заводе изготовителя (в соответствии с размерами, указанными в заявке на врезку);</text>
<text x="905" y="462.2" font-size="14.4" textLength="392.5" lengthAdjust="spacingAndGlyphs" stroke="#000" stroke-width="0.45" fill="#000">3 – выход очищенной воды (труба ∅110 монтируется на заводе).</text>
<text x="905" y="494.4" font-size="14.4" textLength="616.5" lengthAdjust="spacingAndGlyphs" stroke="#000" stroke-width="0.45" fill="#000">Монтажные и земляные работы проводить согласно СП 129.13330.2011 "Наружные сети и сооружения</text>
<text x="876.6" y="510" font-size="14.4" textLength="196.9" lengthAdjust="spacingAndGlyphs" stroke="#000" stroke-width="0.45" fill="#000">водоснабжения и канализации".</text>
<rect x="877" y="534.2" width="492.6" height="126.8" fill="#fff" stroke="#000" stroke-width="2.4" />
<line x1="877" y1="556.4" x2="1369.6" y2="556.4" stroke="#000" stroke-width="2" />
<line x1="877" y1="594.2" x2="1369.6" y2="594.2" stroke="#000" stroke-width="2" />
<line x1="877" y1="617.2" x2="1369.6" y2="617.2" stroke="#000" stroke-width="2" />
<line x1="877" y1="638.8" x2="1369.6" y2="638.8" stroke="#000" stroke-width="2" />
<line x1="1066.5" y1="556.4" x2="1066.5" y2="661" stroke="#000" stroke-width="2.2" />
<line x1="1218.4" y1="556.4" x2="1218.4" y2="661" stroke="#000" stroke-width="2.2" />
<line x1="1142.8" y1="594.2" x2="1142.8" y2="661" stroke="#000" stroke-width="1.8" />
<line x1="1294.4" y1="594.2" x2="1294.4" y2="661" stroke="#000" stroke-width="1.8" />
<text x="1057.4" y="551" font-size="15.3" textLength="133.3" lengthAdjust="spacingAndGlyphs" stroke="#000" stroke-width="0.45" fill="#000">Пояснение к схеме №1</text>
<text x="1076" y="574" font-size="15.3" textLength="130.0" lengthAdjust="spacingAndGlyphs" stroke="#000" stroke-width="0.45" fill="#000">От дна установки до</text>
<text x="1079.4" y="587.7" font-size="15.3" textLength="125.6" lengthAdjust="spacingAndGlyphs" stroke="#000" stroke-width="0.45" fill="#000">нижнего края трубы</text>
<text x="1221" y="574" font-size="15.3" textLength="146.0" lengthAdjust="spacingAndGlyphs" stroke="#000" stroke-width="0.45" fill="#000">От поверхности грунта</text>
<text x="1224.5" y="587.7" font-size="15.3" textLength="142.5" lengthAdjust="spacingAndGlyphs" stroke="#000" stroke-width="0.45" fill="#000">до нижнего края трубы</text>
<text x="1095.3" y="611" font-size="15.3" textLength="18.6" lengthAdjust="spacingAndGlyphs" stroke="#000" stroke-width="0.45" fill="#000">min</text>
<text x="1091.6" y="633" font-size="15.3" textLength="26.0" lengthAdjust="spacingAndGlyphs" stroke="#000" stroke-width="0.45" fill="#000">1400</text>
<text x="1091.6" y="655" font-size="15.3" textLength="26.0" lengthAdjust="spacingAndGlyphs" stroke="#000" stroke-width="0.45" fill="#000">1880</text>
<text x="1168.8" y="611" font-size="15.3" textLength="23.6" lengthAdjust="spacingAndGlyphs" stroke="#000" stroke-width="0.45" fill="#000">max</text>
<text x="1167.6" y="633" font-size="15.3" textLength="26.0" lengthAdjust="spacingAndGlyphs" stroke="#000" stroke-width="0.45" fill="#000">1800</text>
<text x="1167.6" y="655" font-size="15.3" textLength="26.0" lengthAdjust="spacingAndGlyphs" stroke="#000" stroke-width="0.45" fill="#000">1880</text>
<text x="1247.1000000000001" y="611" font-size="15.3" textLength="18.6" lengthAdjust="spacingAndGlyphs" stroke="#000" stroke-width="0.45" fill="#000">min</text>
<text x="1243.4" y="633" font-size="15.3" textLength="26.0" lengthAdjust="spacingAndGlyphs" stroke="#000" stroke-width="0.45" fill="#000">1050</text>
<text x="1246.4" y="655" font-size="15.3" textLength="20.0" lengthAdjust="spacingAndGlyphs" stroke="#000" stroke-width="0.45" fill="#000">970</text>
<text x="1320.2" y="611" font-size="15.3" textLength="23.6" lengthAdjust="spacingAndGlyphs" stroke="#000" stroke-width="0.45" fill="#000">max</text>
<text x="1319" y="633" font-size="15.3" textLength="26.0" lengthAdjust="spacingAndGlyphs" stroke="#000" stroke-width="0.45" fill="#000">1450</text>
<text x="1322.0" y="655" font-size="15.3" textLength="20.0" lengthAdjust="spacingAndGlyphs" stroke="#000" stroke-width="0.45" fill="#000">970</text>
<text x="914" y="633" font-size="15.3" textLength="115.8" lengthAdjust="spacingAndGlyphs" stroke="#000" stroke-width="0.45" fill="#000">Вход сточной воды</text>
<text x="902" y="655" font-size="15.3" textLength="140.0" lengthAdjust="spacingAndGlyphs" stroke="#000" stroke-width="0.45" fill="#000">Выход очищенной воды</text>
<text x="904" y="693.5" font-size="14.4" textLength="280.0" lengthAdjust="spacingAndGlyphs" stroke="#000" stroke-width="0.45" fill="#000">ПРИ МОНТАЖЕ ОБРАТИТЬ ОСОБОЕ ВНИМАНИЕ:</text>
<text x="904" y="709.9" font-size="14.4" textLength="644.6" lengthAdjust="spacingAndGlyphs" stroke="#000" stroke-width="0.45" fill="#000">Разработку котлована производить при условии соблюдения правил техники безопасности проведения</text>
<text x="877" y="725.6" font-size="14.4" textLength="646.8" lengthAdjust="spacingAndGlyphs" stroke="#000" stroke-width="0.45" fill="#000">земляных работ, с соблюдением требований действующей нормативной документации. Монтаж станции</text>
<text x="877" y="741.4" font-size="14.4" textLength="679.7" lengthAdjust="spacingAndGlyphs" stroke="#000" stroke-width="0.45" fill="#000">производить на песчаную подсыпку, станцию не подвергать ударам, обсыпку производить вместе с заливкой</text>
<text x="877" y="757.1" font-size="14.4" textLength="408.0" lengthAdjust="spacingAndGlyphs" stroke="#000" stroke-width="0.45" fill="#000">одновременно для компенсации внутреннего и внешнего давления.</text>
<text x="905" y="785.7" font-size="14.4" textLength="649.0" lengthAdjust="spacingAndGlyphs" stroke="#000" stroke-width="0.45" fill="#000">*При определении отметки уровня земли предусмотреть будущее благоустройство участка, возможные</text>
<text x="877" y="802" font-size="14.4" textLength="528.5" lengthAdjust="spacingAndGlyphs" stroke="#000" stroke-width="0.45" fill="#000">ландшафтные работы (которые могут привести к изменению отметки уровня земли).</text>
<text x="905" y="819" font-size="14.4" textLength="452.0" lengthAdjust="spacingAndGlyphs" stroke="#000" stroke-width="0.45" fill="#000">**Производитель может изменить габариты продукции без уведомления.</text>
<text x="905" y="834.8" font-size="14.4" textLength="425.0" lengthAdjust="spacingAndGlyphs" stroke="#000" stroke-width="0.45" fill="#000">***При выполнении врезки учесть внутренний конструктив станции.</text>
<text x="904" y="868.5" font-size="14.4" textLength="384.5" lengthAdjust="spacingAndGlyphs" stroke="#000" stroke-width="0.45" fill="#000">Расход песка не менее – 7,7 м³, расход воды не менее – 2,2 м³.</text>
<line x1="904" y1="871.3" x2="1288.5" y2="871.3" stroke="#000" stroke-width="1.2" />
<rect x="875.3" y="882.5" width="700.3" height="208.0" fill="#fff" stroke="#000" stroke-width="2.6" />
<line x1="875.3" y1="901.41" x2="1121.5" y2="901.41" stroke="#000" stroke-width="1.3" />
<line x1="875.3" y1="920.32" x2="1121.5" y2="920.32" stroke="#000" stroke-width="1.3" />
<line x1="875.3" y1="939.23" x2="1121.5" y2="939.23" stroke="#000" stroke-width="1.3" />
<line x1="875.3" y1="958.14" x2="1121.5" y2="958.14" stroke="#000" stroke-width="2.4" />
<line x1="875.3" y1="977.05" x2="1121.5" y2="977.05" stroke="#000" stroke-width="2.4" />
<line x1="875.3" y1="995.96" x2="1121.5" y2="995.96" stroke="#000" stroke-width="1.3" />
<line x1="875.3" y1="1014.87" x2="1121.5" y2="1014.87" stroke="#000" stroke-width="1.3" />
<line x1="875.3" y1="1033.78" x2="1121.5" y2="1033.78" stroke="#000" stroke-width="1.3" />
<line x1="875.3" y1="1052.69" x2="1121.5" y2="1052.69" stroke="#000" stroke-width="1.3" />
<line x1="875.3" y1="1071.6" x2="1121.5" y2="1071.6" stroke="#000" stroke-width="1.3" />
<line x1="913.2" y1="882.5" x2="913.2" y2="977.05" stroke="#000" stroke-width="2.4" />
<line x1="951.1" y1="882.5" x2="951.1" y2="1090.5" stroke="#000" stroke-width="2.4" />
<line x1="988.9" y1="882.5" x2="988.9" y2="977.05" stroke="#000" stroke-width="2.4" />
<line x1="1026.8" y1="882.5" x2="1026.8" y2="1090.5" stroke="#000" stroke-width="2.4" />
<line x1="1083.6" y1="882.5" x2="1083.6" y2="1090.5" stroke="#000" stroke-width="2.4" />
<line x1="1121.5" y1="882.5" x2="1121.5" y2="1090.5" stroke="#000" stroke-width="2.4" />
<line x1="1121.5" y1="920.3" x2="1575.6" y2="920.3" stroke="#000" stroke-width="2.4" />
<line x1="1121.5" y1="977.05" x2="1575.6" y2="977.05" stroke="#000" stroke-width="2.4" />
<line x1="1121.5" y1="1033.3" x2="1575.6" y2="1033.3" stroke="#000" stroke-width="2.4" />
<line x1="1386.4" y1="977.05" x2="1386.4" y2="1090.5" stroke="#000" stroke-width="2.4" />
<line x1="1443.5" y1="977.05" x2="1443.5" y2="1033.3" stroke="#000" stroke-width="2.4" />
<line x1="1500" y1="977.05" x2="1500" y2="1033.3" stroke="#000" stroke-width="2.4" />
<line x1="1386.4" y1="996" x2="1575.6" y2="996" stroke="#000" stroke-width="2.4" />
<text x="881" y="972.7" font-size="14.6" textLength="25.0" lengthAdjust="spacingAndGlyphs" stroke="#000" stroke-width="0.45" fill="#000">Изм.</text>
<text x="916" y="972.7" font-size="14.6" textLength="32.0" lengthAdjust="spacingAndGlyphs" stroke="#000" stroke-width="0.45" fill="#000">Кол. уч.</text>
<text x="955" y="972.7" font-size="14.6" textLength="30.0" lengthAdjust="spacingAndGlyphs" stroke="#000" stroke-width="0.45" fill="#000">Лист</text>
<text x="991.5" y="972.7" font-size="14.6" textLength="32.5" lengthAdjust="spacingAndGlyphs" stroke="#000" stroke-width="0.45" fill="#000">№ док.</text>
<text x="1039" y="972.7" font-size="14.6" textLength="32.0" lengthAdjust="spacingAndGlyphs" stroke="#000" stroke-width="0.45" fill="#000">Подп.</text>
<text x="1087" y="972.7" font-size="14.6" textLength="31.0" lengthAdjust="spacingAndGlyphs" stroke="#000" stroke-width="0.45" fill="#000">Дата</text>
<text x="1169.5" y="998.4" font-size="19.3" textLength="169.5" lengthAdjust="spacingAndGlyphs" fill="#000">Установка очистки</text>
<text x="1201" y="1014.6" font-size="19.3" textLength="106.5" lengthAdjust="spacingAndGlyphs" fill="#000">сточных вод</text>
<text x="1199.5" y="1029.8" font-size="19.3" textLength="110.1" lengthAdjust="spacingAndGlyphs" fill="#000">V=1,5 м3/сут</text>
<text x="1175.5" y="1068.6" font-size="15.3" textLength="161.1" lengthAdjust="spacingAndGlyphs" stroke="#000" stroke-width="0.5" fill="#000">ТОПАС–С/TOPAS–S 8 Лонг</text>
<text x="1390.6" y="1069.5" font-size="21" textLength="181.8" lengthAdjust="spacingAndGlyphs" fill="#000">ТОПОЛ–ЭКО/TOPOL–ECO</text>
<text x="1392.4" y="991.5" font-size="14.6" textLength="45.0" lengthAdjust="spacingAndGlyphs" stroke="#000" stroke-width="0.45" fill="#000">Стадия</text>
<text x="1457.5" y="991.5" font-size="14.6" textLength="29.1" lengthAdjust="spacingAndGlyphs" stroke="#000" stroke-width="0.45" fill="#000">Лист</text>
<text x="1517.5" y="991.5" font-size="14.6" textLength="42.0" lengthAdjust="spacingAndGlyphs" stroke="#000" stroke-width="0.45" fill="#000">Листов</text>
<text x="1534" y="1020.3" font-size="14.5" fill="#000">1</text>
<text x="1429" y="1105.5" font-size="14.6" textLength="48.6" lengthAdjust="spacingAndGlyphs" stroke="#000" stroke-width="0.45" fill="#000">Формат</text>
<text x="1521.4" y="1105.5" font-size="14.6" textLength="16.2" lengthAdjust="spacingAndGlyphs" stroke="#000" stroke-width="0.45" fill="#000">А3</text>
</svg>
</body></html>
